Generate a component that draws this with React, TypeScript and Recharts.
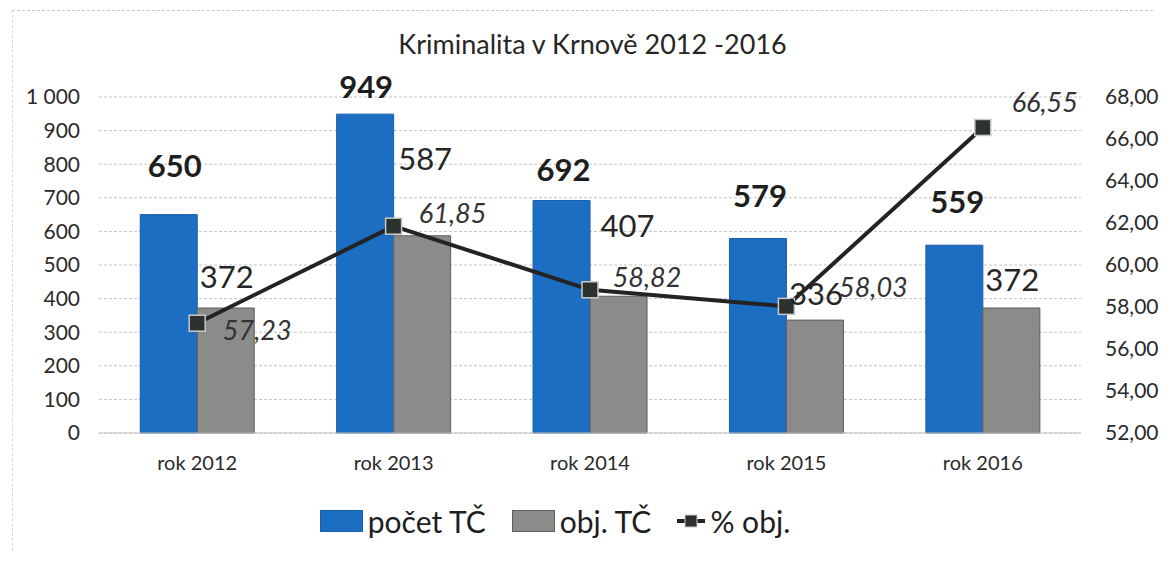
import React from "react";
import {
  ComposedChart,
  Bar,
  Line,
  XAxis,
  YAxis,
  CartesianGrid,
  LabelList,
} from "recharts";

const years = ["rok 2012", "rok 2013", "rok 2014", "rok 2015", "rok 2016"];
const pocetTC = [650, 949, 692, 579, 559];
const objTC = [372, 587, 407, 336, 372];
const pctObj = [57.23, 61.85, 58.82, 58.03, 66.55];

const leftTicks = [0, 100, 200, 300, 400, 500, 600, 700, 800, 900, 1000];
const rightTicks = [52, 54, 56, 58, 60, 62, 64, 66, 68];

// manual label nudges, like the hand-placed labels in the original sheet
const pocetLift = [50, 28, 31, 43, 44];
const pocetShift = [6, 1, 2, 2, 3];
const objLift = [32, 78, 71, 27, 29];
const objShift = [1, 3, 9, 1, 1];
const pctShift: [number, number][] = [
  [60, 6],
  [59, -14],
  [57, -13],
  [87, -20],
  [62, -26],
];

const data = years.map((year, i) => ({
  year,
  pocet: pocetTC[i],
  obj: objTC[i],
  pct: pctObj[i],
}));

const font = "Lato, 'Open Sans', sans-serif";
const blue = "#1c6ec3";
const gray = "#8b8b89";

const fmtThousands = (v: number) =>
  v >= 1000 ? `${Math.floor(v / 1000)} ${String(v % 1000).padStart(3, "0")}` : String(v);
const fmtComma = (v: number, d: number) => v.toFixed(d).replace(".", ",");

const PocetLabel = (props: any) => {
  const { x, y, width, value, index } = props;
  return (
    <text
      x={x + width / 2 + pocetShift[index]}
      y={y - pocetLift[index]}
      textAnchor="middle"
      dominantBaseline="central"
      fontFamily={font}
      fontWeight={700}
      fontSize={31}
      fill="#1e1e1e"
    >
      {value}
    </text>
  );
};

const ObjLabel = (props: any) => {
  const { x, y, width, value, index } = props;
  return (
    <text
      x={x + width / 2 + objShift[index]}
      y={y - objLift[index]}
      textAnchor="middle"
      dominantBaseline="central"
      fontFamily={font}
      fontSize={31}
      fill="#262626"
    >
      {value}
    </text>
  );
};

const PctLabel = (props: any) => {
  const { x, y, value, index } = props;
  return (
    <text
      x={x + pctShift[index][0]}
      y={y + pctShift[index][1]}
      textAnchor="middle"
      dominantBaseline="central"
      fontFamily={font}
      fontStyle="italic"
      fontSize={27}
      fill="#333"
    >
      {fmtComma(value, 2)}
    </text>
  );
};

const SquareDot = (props: any) => {
  const { cx, cy } = props;
  if (cx == null || cy == null) return null;
  return (
    <rect
      x={cx - 8}
      y={cy - 8}
      width={16}
      height={16}
      fill="#2c332f"
      stroke="#c9c9c9"
      strokeWidth={1.5}
    />
  );
};

const legendItems = [
  { label: "počet TČ", kind: "bar", color: blue },
  { label: "obj. TČ", kind: "bar", color: gray },
  { label: "% obj.", kind: "line", color: "#232323" },
];

export default function App() {
  return (
    <div
      style={{
        position: "absolute",
        left: 0,
        top: 0,
        width: 1163,
        height: 562,
        background: "#fff",
        fontFamily: font,
      }}
    >
      <div
        style={{
          position: "absolute",
          left: 12,
          top: 10,
          width: 1140,
          height: 540,
          borderTop: "1px dashed #c8c8c8",
          borderLeft: "1px dashed #d8d8d8",
        }}
      />
      <div
        style={{
          position: "absolute",
          top: 27,
          left: 0,
          width: 1185,
          textAlign: "center",
          fontSize: 27,
          color: "#262626",
        }}
      >
        Kriminalita v Krnově 2012 -2016
      </div>
      <ComposedChart
        width={1163}
        height={562}
        data={data}
        margin={{ top: 97, right: 12, bottom: 99, left: 19 }}
        barCategoryGap="21%"
        barGap={0}
      >
        <CartesianGrid
          vertical={false}
          stroke="#c4c4c4"
          strokeDasharray="3 2"
          yAxisId="left"
        />
        <XAxis
          dataKey="year"
          height={30}
          tickLine={false}
          axisLine={{ stroke: "#c4c4c4" }}
          tickSize={0}
          tickMargin={23}
          tick={{ fontSize: 20, fill: "#2a2a2a", fontFamily: font }}
        />
        <YAxis
          yAxisId="left"
          domain={[0, 1000]}
          ticks={leftTicks}
          interval={0}
          width={80}
          axisLine={false}
          tickLine={false}
          tickSize={0}
          tickMargin={19}
          tickFormatter={fmtThousands}
          tick={{ fontSize: 21, fill: "#2a2a2a", fontFamily: font }}
        />
        <YAxis
          yAxisId="right"
          orientation="right"
          domain={[52, 68]}
          ticks={rightTicks}
          interval={0}
          width={70}
          axisLine={false}
          tickLine={false}
          tickSize={0}
          tickMargin={24}
          tickFormatter={(v: number) => fmtComma(v, 2)}
          tick={{ fontSize: 21, fill: "#2a2a2a", fontFamily: font }}
        />
        <Bar
          yAxisId="left"
          dataKey="pocet"
          fill={blue}
          stroke="#1a5ea8"
          strokeWidth={1}
          isAnimationActive={false}
        >
          <LabelList dataKey="pocet" content={PocetLabel} />
        </Bar>
        <Bar
          yAxisId="left"
          dataKey="obj"
          fill={gray}
          stroke="#5f5f5d"
          strokeWidth={1}
          isAnimationActive={false}
        >
          <LabelList dataKey="obj" content={ObjLabel} />
        </Bar>
        <Line
          yAxisId="right"
          dataKey="pct"
          stroke="#232323"
          strokeWidth={4}
          dot={<SquareDot />}
          activeDot={false}
          isAnimationActive={false}
        >
          <LabelList dataKey="pct" content={PctLabel} />
        </Line>
      </ComposedChart>
      <div
        style={{
          position: "absolute",
          top: 503,
          left: 0,
          width: 1110,
          display: "flex",
          justifyContent: "center",
          alignItems: "center",
          gap: 26,
          fontSize: 30,
          color: "#1e1e1e",
        }}
      >
        {legendItems.map((it) => (
          <div key={it.label} style={{ display: "flex", alignItems: "center", gap: 5 }}>
            {it.kind === "bar" ? (
              <div
                style={{
                  width: 43,
                  height: 22,
                  background: it.color,
                  border: `1px solid ${it.color === blue ? "#1a5ea8" : "#5f5f5d"}`,
                  boxSizing: "border-box",
                }}
              />
            ) : (
              <svg width={28} height={22}>
                <line x1={0} y1={11} x2={28} y2={11} stroke={it.color} strokeWidth={4} />
                <rect x={8} y={5} width={12} height={12} fill="#2c332f" stroke="#c9c9c9" strokeWidth={1} />
              </svg>
            )}
            <span>{it.label}</span>
          </div>
        ))}
      </div>
    </div>
  );
}
